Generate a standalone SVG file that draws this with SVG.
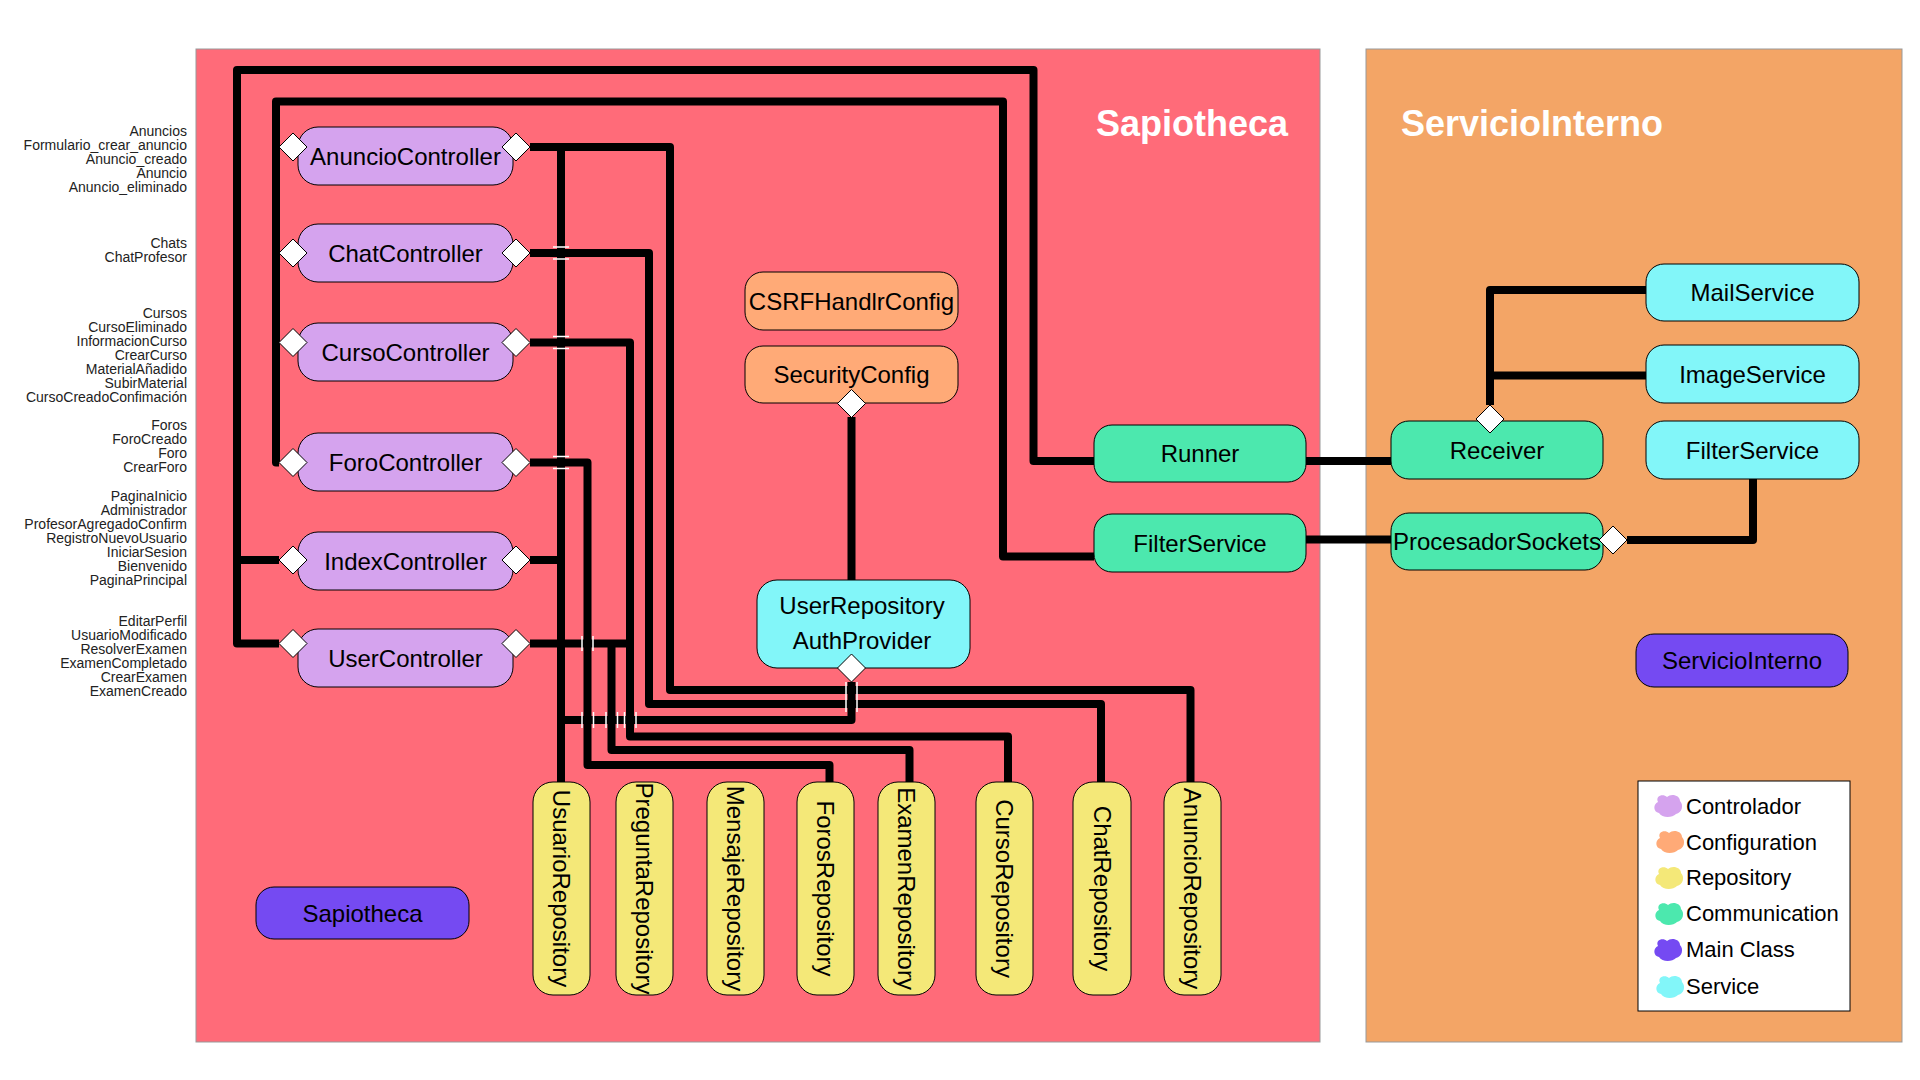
<svg xmlns="http://www.w3.org/2000/svg" xmlns:xlink="http://www.w3.org/1999/xlink" width="1920" height="1080" viewBox="0 0 1920 1080">
<style>
text{font-family:"Liberation Sans",Arial,sans-serif;fill:#000}
.nt{font-size:24px;text-anchor:middle;dominant-baseline:central}
.lbl{font-size:14px;text-anchor:end;dominant-baseline:central;fill:#222}
.title{font-size:36px;font-weight:bold;fill:#fff}
.leg{font-size:22px;dominant-baseline:central}
.box{stroke:#000;stroke-width:1}
.ctrl{fill:#D5A3EE}
.conf{fill:#FFAA77}
.repo{fill:#F4E878}
.comm{fill:#4CE8AE}
.main{fill:#754AF2}
.serv{fill:#82F6F9}
.ln{fill:none;stroke:#000;stroke-width:8;stroke-linejoin:round}
.jmp{fill:none;stroke:#fff;stroke-width:1.5}
.dia{fill:#fff;stroke:#000;stroke-width:1}
</style>
<defs>
<path id="dia" class="dia" d="M0,-14 L14,0 L0,14 L-14,0Z"/>
<path id="blob" d="M5,9 C2,3 10,0 14,4 C18,0 27,2 27,8 C31,12 29,20 23,21 C19,25 9,25 6,20 C0,19 0,11 5,9Z"/>
</defs>
<rect width="1920" height="1080" fill="#fff"/>

<g id="container-sapiotheca">
<rect x="196" y="49" width="1124" height="993" fill="#FF6B79" stroke="#999" stroke-width="1"/>
<text class="title" x="1096" y="136">Sapiotheca</text>
</g>
<g id="container-serviciointerno">
<rect x="1366" y="49" width="536" height="993" fill="#F3A566" stroke="#999" stroke-width="1"/>
<text class="title" x="1401" y="136">ServicioInterno</text>
</g>

<g id="labels">
<text class="lbl" x="187" y="131"><tspan x="187">Anuncios</tspan><tspan x="187" dy="14">Formulario_crear_anuncio</tspan><tspan x="187" dy="14">Anuncio_creado</tspan><tspan x="187" dy="14">Anuncio</tspan><tspan x="187" dy="14">Anuncio_eliminado</tspan></text>
<text class="lbl" x="187" y="243"><tspan x="187">Chats</tspan><tspan x="187" dy="14">ChatProfesor</tspan></text>
<text class="lbl" x="187" y="313"><tspan x="187">Cursos</tspan><tspan x="187" dy="14">CursoEliminado</tspan><tspan x="187" dy="14">InformacionCurso</tspan><tspan x="187" dy="14">CrearCurso</tspan><tspan x="187" dy="14">MaterialAñadido</tspan><tspan x="187" dy="14">SubirMaterial</tspan><tspan x="187" dy="14">CursoCreadoConfimación</tspan></text>
<text class="lbl" x="187" y="425"><tspan x="187">Foros</tspan><tspan x="187" dy="14">ForoCreado</tspan><tspan x="187" dy="14">Foro</tspan><tspan x="187" dy="14">CrearForo</tspan></text>
<text class="lbl" x="187" y="496"><tspan x="187">PaginaInicio</tspan><tspan x="187" dy="14">Administrador</tspan><tspan x="187" dy="14">ProfesorAgregadoConfirm</tspan><tspan x="187" dy="14">RegistroNuevoUsuario</tspan><tspan x="187" dy="14">IniciarSesion</tspan><tspan x="187" dy="14">Bienvenido</tspan><tspan x="187" dy="14">PaginaPrincipal</tspan></text>
<text class="lbl" x="187" y="621"><tspan x="187">EditarPerfil</tspan><tspan x="187" dy="14">UsuarioModificado</tspan><tspan x="187" dy="14">ResolverExamen</tspan><tspan x="187" dy="14">ExamenCompletado</tspan><tspan x="187" dy="14">CrearExamen</tspan><tspan x="187" dy="14">ExamenCreado</tspan></text>
</g>

<g id="node-AnuncioController"><rect class="box ctrl" x="298" y="127" width="215" height="58" rx="20"/><text class="nt" x="405.5" y="156">AnuncioController</text></g>
<g id="node-ChatController"><rect class="box ctrl" x="298" y="224" width="215" height="58" rx="20"/><text class="nt" x="405.5" y="253">ChatController</text></g>
<g id="node-CursoController"><rect class="box ctrl" x="298" y="323" width="215" height="58" rx="20"/><text class="nt" x="405.5" y="352">CursoController</text></g>
<g id="node-ForoController"><rect class="box ctrl" x="298" y="433" width="215" height="58" rx="20"/><text class="nt" x="405.5" y="462">ForoController</text></g>
<g id="node-IndexController"><rect class="box ctrl" x="298" y="532" width="215" height="58" rx="20"/><text class="nt" x="405.5" y="561">IndexController</text></g>
<g id="node-UserController"><rect class="box ctrl" x="298" y="629" width="215" height="58" rx="20"/><text class="nt" x="405.5" y="658">UserController</text></g>

<g id="node-CSRFHandlrConfig"><rect class="box conf" x="745" y="272" width="213" height="58" rx="18"/><text class="nt" x="851.5" y="301">CSRFHandlrConfig</text></g>
<g id="node-SecurityConfig"><rect class="box conf" x="745" y="346" width="213" height="57" rx="18"/><text class="nt" x="851.5" y="374">SecurityConfig</text></g>
<g id="node-UserRepositoryAuthProvider"><rect class="box serv" x="757" y="580" width="213" height="88" rx="20"/><text class="nt" x="862" y="605">UserRepository</text><text class="nt" x="862" y="640">AuthProvider</text></g>

<g id="node-Runner"><rect class="box comm" x="1094" y="425" width="212" height="57" rx="18"/><text class="nt" x="1200" y="453">Runner</text></g>
<g id="node-FilterServiceComm"><rect class="box comm" x="1094" y="514" width="212" height="58" rx="18"/><text class="nt" x="1200" y="543">FilterService</text></g>
<g id="node-Receiver"><rect class="box comm" x="1391" y="421" width="212" height="58" rx="18"/><text class="nt" x="1497" y="450">Receiver</text></g>
<g id="node-ProcesadorSockets"><rect class="box comm" x="1391" y="513" width="212" height="57" rx="18"/><text class="nt" x="1497" y="541">ProcesadorSockets</text></g>
<g id="node-MailService"><rect class="box serv" x="1646" y="264" width="213" height="57" rx="18"/><text class="nt" x="1752.5" y="292">MailService</text></g>
<g id="node-ImageService"><rect class="box serv" x="1646" y="345" width="213" height="58" rx="18"/><text class="nt" x="1752.5" y="374">ImageService</text></g>
<g id="node-FilterService"><rect class="box serv" x="1646" y="421" width="213" height="58" rx="18"/><text class="nt" x="1752.5" y="450">FilterService</text></g>

<g id="node-SapiothecaMain"><rect class="box main" x="256" y="887" width="213" height="52" rx="18"/><text class="nt" x="362.5" y="913">Sapiotheca</text></g>
<g id="node-ServicioInternoMain"><rect class="box main" x="1636" y="634" width="212" height="53" rx="18"/><text class="nt" x="1742" y="660.5">ServicioInterno</text></g>

<g id="node-UsuarioRepository"><rect class="box repo" x="533" y="782" width="57" height="213" rx="20"/><text class="nt" transform="translate(561.5,888.5) rotate(90)">UsuarioRepository</text></g>
<g id="node-PreguntaRepository"><rect class="box repo" x="616" y="782" width="57" height="213" rx="20"/><text class="nt" transform="translate(644.5,888.5) rotate(90)">PreguntaRepository</text></g>
<g id="node-MensajeRepository"><rect class="box repo" x="707" y="782" width="57" height="213" rx="20"/><text class="nt" transform="translate(735.5,888.5) rotate(90)">MensajeRepository</text></g>
<g id="node-ForosRepository"><rect class="box repo" x="797" y="782" width="57" height="213" rx="20"/><text class="nt" transform="translate(825.5,888.5) rotate(90)">ForosRepository</text></g>
<g id="node-ExamenRepository"><rect class="box repo" x="878" y="782" width="57" height="213" rx="20"/><text class="nt" transform="translate(906.5,888.5) rotate(90)">ExamenRepository</text></g>
<g id="node-CursoRepository"><rect class="box repo" x="976" y="782" width="57" height="213" rx="20"/><text class="nt" transform="translate(1004.5,888.5) rotate(90)">CursoRepository</text></g>
<g id="node-ChatRepository"><rect class="box repo" x="1073" y="782" width="58" height="213" rx="20"/><text class="nt" transform="translate(1102,888.5) rotate(90)">ChatRepository</text></g>
<g id="node-AnuncioRepository"><rect class="box repo" x="1164" y="782" width="57" height="213" rx="20"/><text class="nt" transform="translate(1192.5,888.5) rotate(90)">AnuncioRepository</text></g>

<g id="legend">
<rect x="1638" y="781" width="212" height="230" fill="#fff" stroke="#000" stroke-width="1"/>
<use href="#blob" x="1653" y="793" fill="#D5A3EE"/><text class="leg" x="1686" y="806">Controlador</text>
<use href="#blob" x="1655" y="829" fill="#FFAA77"/><text class="leg" x="1686" y="842">Configuration</text>
<use href="#blob" x="1654" y="865" fill="#F4E878"/><text class="leg" x="1686" y="877.5">Repository</text>
<use href="#blob" x="1654" y="901" fill="#4CE8AE"/><text class="leg" x="1686" y="913.5">Communication</text>
<use href="#blob" x="1653" y="937" fill="#754AF2"/><text class="leg" x="1686" y="949.5">Main Class</text>
<use href="#blob" x="1655" y="974" fill="#82F6F9"/><text class="leg" x="1686" y="986">Service</text>
</g>

<g id="connectors">
<path class="ln" d="M1094 461 H1033.5 V70 H237 V643.5 H279"/>
<path class="ln" d="M237 560 H279"/>
<path class="ln" d="M1094 556.5 H1003 V101.5 H276 V462.5 H279"/>
<path class="ln" d="M561 147 V782"/>
<path class="ln" d="M530 147 H670 V690 H1190.5 V782"/>
<path class="ln" d="M530 253 H649 V704 H1101 V782"/>
<path class="ln" d="M530 342.5 H630 V736.5 H1008 V782"/>
<path class="ln" d="M530 462.5 H587.5 V765 H829.5 V782"/>
<path class="ln" d="M530 560 H561"/>
<path class="ln" d="M530 643.5 H630"/>
<path class="ln" d="M611.5 643.5 V750 H909.5 V782"/>
<path class="ln" d="M851.5 682 V720 H561"/>
<path class="ln" d="M851.5 417 V580"/>
<path class="ln" d="M1306 461 H1391"/>
<path class="ln" d="M1306 539.5 H1391"/>
<path class="ln" d="M1490 405 V290 H1646"/>
<path class="ln" d="M1490 375.5 H1646"/>
<path class="ln" d="M1627 540 H1753 V479"/>
<g id="jumps">
<path class="jmp" d="M553 247 H569 M553 259 H569"/>
<path class="jmp" d="M553 336.5 H569 M553 348.5 H569"/>
<path class="jmp" d="M553 456.5 H569 M553 468.5 H569"/>
<path class="jmp" d="M582 636 V651 M593 636 V651"/>
<path class="jmp" d="M582 712 V728 M593.5 712 V728 M606 712 V728 M617.5 712 V728 M624.5 712 V728 M636 712 V728"/>
<path class="jmp" d="M846 682 V712 M857 682 V712"/>
</g>
<use href="#dia" x="293" y="147"/><use href="#dia" x="516" y="147"/>
<use href="#dia" x="293" y="253"/><use href="#dia" x="516" y="253"/>
<use href="#dia" x="293" y="342.5"/><use href="#dia" x="516" y="342.5"/>
<use href="#dia" x="293" y="462.5"/><use href="#dia" x="516" y="462.5"/>
<use href="#dia" x="293" y="560"/><use href="#dia" x="516" y="560"/>
<use href="#dia" x="293" y="643.5"/><use href="#dia" x="516" y="643.5"/>
<use href="#dia" x="851.5" y="403.5"/>
<use href="#dia" x="851.5" y="668"/>
<use href="#dia" x="1490" y="419"/>
<use href="#dia" x="1613" y="540"/>
</g>
</svg>
